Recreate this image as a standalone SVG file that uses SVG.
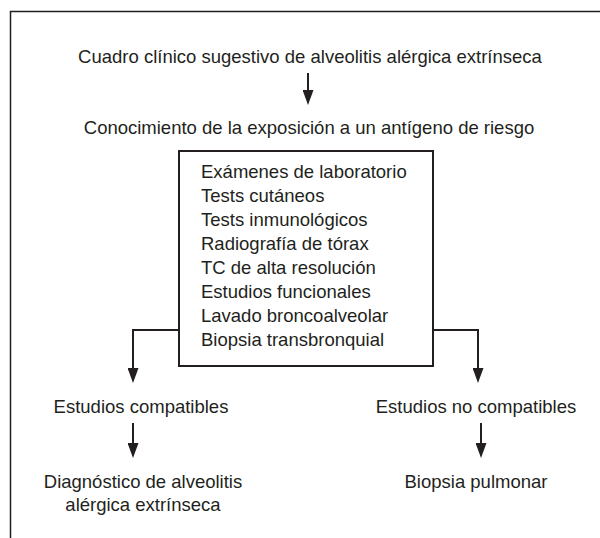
<svg xmlns="http://www.w3.org/2000/svg" width="600" height="538" viewBox="0 0 600 538">
<style>
text{font-family:"Liberation Sans",Arial,sans-serif;font-size:18.5px;fill:#231f20}
.c{text-anchor:middle}
.ln{fill:none;stroke:#231f20;stroke-width:2}
.fr{fill:none;stroke:#231f20;stroke-width:1.5}
</style>
<defs>
<marker id="ah" viewBox="0 0 15 11" refX="9" refY="5.5" markerWidth="15" markerHeight="11" markerUnits="userSpaceOnUse" orient="auto">
<path d="M0 0L15 5.5L0 11Z" fill="#231f20"/>
</marker>
</defs>
<rect width="600" height="538" fill="#fff"/>
<path class="fr" d="M10.5 538V11.5H600"/>
<g id="n1"><text class="c" x="310" y="63">Cuadro clínico sugestivo de alveolitis alérgica extrínseca</text></g>
<g id="n2"><text class="c" x="309" y="134">Conocimiento de la exposición a un antígeno de riesgo</text></g>
<g id="n3">
<rect x="179" y="151" width="254" height="215" fill="#fff" stroke="#231f20" stroke-width="2"/>
<text x="201" y="178">Exámenes de laboratorio</text>
<text x="201" y="202">Tests cutáneos</text>
<text x="201" y="226">Tests inmunológicos</text>
<text x="201" y="250">Radiografía de tórax</text>
<text x="201" y="274">TC de alta resolución</text>
<text x="201" y="298">Estudios funcionales</text>
<text x="201" y="322">Lavado broncoalveolar</text>
<text x="201" y="346">Biopsia transbronquial</text>
</g>
<g id="n4"><text class="c" x="141" y="413">Estudios compatibles</text></g>
<g id="n5"><text class="c" x="476" y="413">Estudios no compatibles</text></g>
<g id="n6"><text class="c" x="143" y="488">Diagnóstico de alveolitis</text><text class="c" x="143" y="511">alérgica extrínseca</text></g>
<g id="n7"><text class="c" x="476" y="488">Biopsia pulmonar</text></g>
<g id="connectors">
<path class="ln" d="M308 73V99" marker-end="url(#ah)"/>
<path class="ln" d="M179 330H133V377" marker-end="url(#ah)"/>
<path class="ln" d="M433 330H478V377" marker-end="url(#ah)"/>
<path class="ln" d="M133 423V452" marker-end="url(#ah)"/>
<path class="ln" d="M481 423V452" marker-end="url(#ah)"/>
</g>
</svg>
